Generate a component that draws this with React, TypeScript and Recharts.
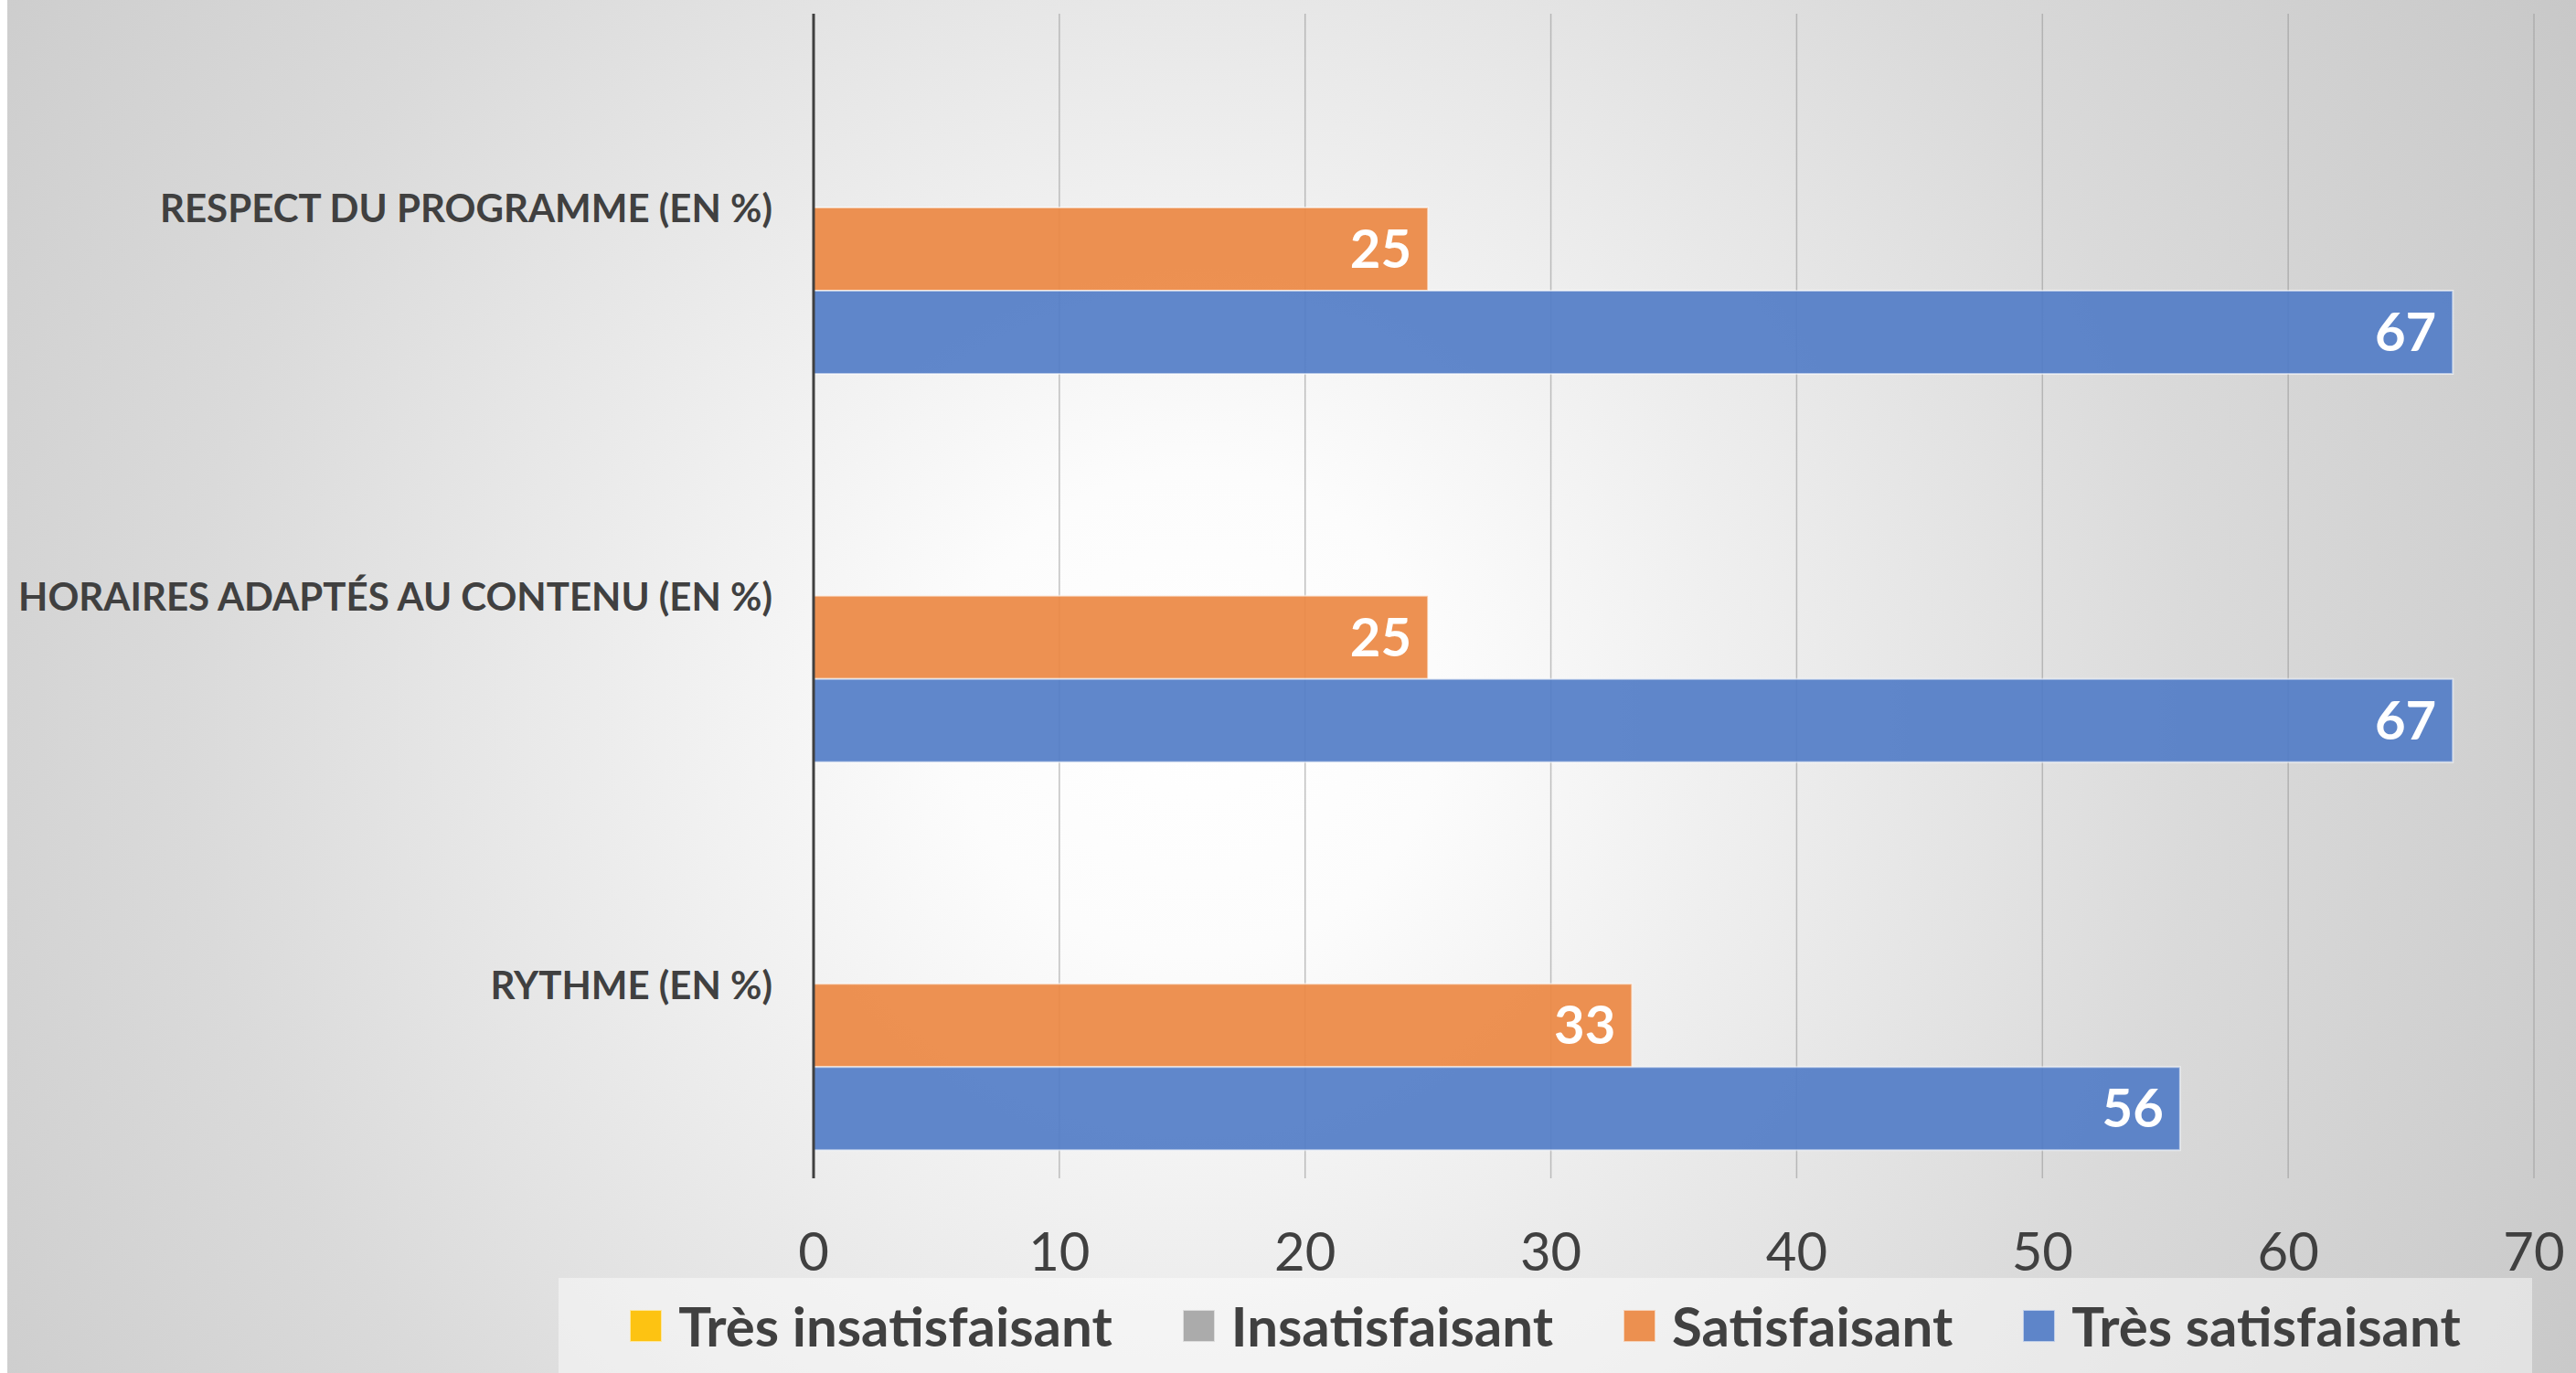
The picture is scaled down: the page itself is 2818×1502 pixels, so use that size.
import React from "react";
import { BarChart, Bar, XAxis, YAxis, CartesianGrid, Legend, LabelList } from "recharts";

const categories = [
  "RESPECT DU PROGRAMME (EN %)",
  "HORAIRES ADAPTÉS AU CONTENU (EN %)",
  "RYTHME (EN %)",
];
const tresInsatisfaisant = [0, 0, 0];
const insatisfaisant = [0, 0, 0];
const satisfaisant = [25, 25, 33.3];
const tresSatisfaisant = [66.7, 66.7, 55.6];
const xTicks = [0, 10, 20, 30, 40, 50, 60, 70];

const seriesNames = ["Très insatisfaisant", "Insatisfaisant", "Satisfaisant", "Très satisfaisant"];
const seriesColors = ["#ffc000", "#a5a5a5", "#ec8843", "#537dc7"];

const data = categories.map((c, i) => ({
  category: c,
  ti: tresInsatisfaisant[i],
  in: insatisfaisant[i],
  sa: satisfaisant[i],
  ts: tresSatisfaisant[i],
}));

const TEXT = "#404040";
const FONT = "Lato, 'Open Sans', sans-serif";

const YTick = (props: any) => {
  const { x, y, payload } = props;
  return (
    <text x={x} y={y} textAnchor="end" dominantBaseline="central" fill={TEXT}
      fontSize={42} fontWeight={700} fontFamily={FONT}>
      {payload.value}
    </text>
  );
};

const renderLegend = () => (
  <div style={{
    width: 2159, height: 104, background: "rgba(255,255,255,0.45)",
    display: "flex", alignItems: "center", justifyContent: "center", gap: 77,
    fontFamily: FONT,
  }}>
    {seriesNames.map((name, i) => (
      <div key={name} style={{ display: "flex", alignItems: "center", gap: 18 }}>
        <span style={{
          display: "inline-block", width: 35, height: 35, background: seriesColors[i],
          opacity: 0.92, boxSizing: "border-box", border: "1px solid rgba(255,255,255,0.6)",
        }} />
        <span style={{ fontSize: 60, fontWeight: 700, color: TEXT, lineHeight: 1 }}>{name}</span>
      </div>
    ))}
  </div>
);

const fmt = (v: any) => Math.round(Number(v));

export default function App() {
  const keys = ["ti", "in", "sa", "ts"];
  return (
    <div style={{
      position: "absolute", left: 8, top: 0, width: 2810, height: 1502,
      background: "radial-gradient(circle 1900px at 1300px 780px, #ffffff 0%, #fcfcfc 14%, #dadada 58%, #c2c2c2 100%)",
      fontFamily: FONT,
    }}>
      <BarChart
        layout="vertical"
        width={2810}
        height={1502}
        data={data}
        margin={{ top: 15, right: 46, bottom: 0, left: 0 }}
        barGap={0}
        style={{ fontFamily: FONT }}
      >
        <CartesianGrid horizontal={false} stroke="#9a9a9a" strokeOpacity={0.6} strokeWidth={1.5} />
        <XAxis
          type="number"
          domain={[0, 70]}
          ticks={xTicks}
          interval={0}
          axisLine={false}
          tickLine={false}
          tickSize={0}
          tickMargin={60}
          height={109}
          tick={{ fontSize: 58, fill: TEXT, fontFamily: FONT }}
        />
        <YAxis
          type="category"
          dataKey="category"
          width={882}
          interval={0}
          axisLine={{ stroke: TEXT, strokeWidth: 3 }}
          tickLine={false}
          tickSize={0}
          tickMargin={45}
          tick={<YTick />}
        />
        <Legend
          verticalAlign="bottom"
          align="left"
          wrapperStyle={{ left: 603, bottom: 0, width: 2159, height: 104 }}
          content={renderLegend}
        />
        {keys.map((k, i) => (
          <Bar
            key={k}
            dataKey={k}
            name={seriesNames[i]}
            fill={seriesColors[i]}
            fillOpacity={0.92}
            stroke="rgba(255,255,255,0.55)"
            strokeWidth={2}
            barSize={91}
            isAnimationActive={false}
          >
            <LabelList
              dataKey={k}
              position={i < 2 ? "right" : "insideRight"}
              offset={18}
              formatter={fmt}
              fill="#ffffff"
              fontSize={58}
              fontWeight={700}
              fontFamily={FONT}
            />
          </Bar>
        ))}
      </BarChart>
    </div>
  );
}
